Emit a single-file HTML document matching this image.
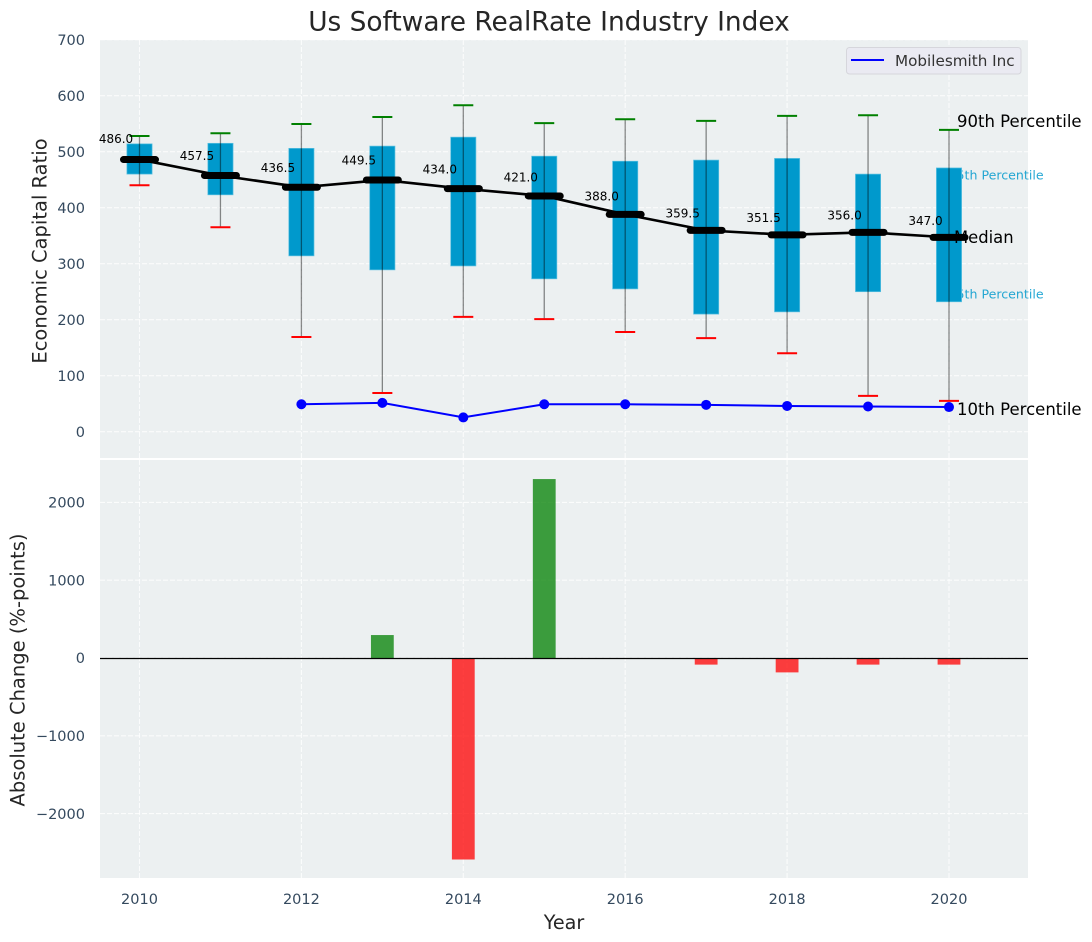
<!DOCTYPE html>
<html>
<head>
<meta charset="utf-8">
<title>Us Software RealRate Industry Index</title>
<style>
html,body{margin:0;padding:0;background:#fff;width:1092px;height:942px;overflow:hidden}
svg{display:block;font-family:"DejaVu Sans","Liberation Sans",sans-serif}
</style>
</head>
<body>
<svg id="chart" xmlns="http://www.w3.org/2000/svg" width="1092" height="942" viewBox="0 0 1092 942">
  <rect x="100" y="40" width="928" height="418" fill="#ecf0f1"/>
  <rect x="100" y="460" width="928" height="418" fill="#ecf0f1"/>
  <g id="grid"></g>
  <g id="notes-under"></g>
  <g id="marks"></g>
  <g id="bars"></g>
  <line x1="100" x2="1028" y1="658.5" y2="658.5" stroke="#000" stroke-width="1.2"/>
  <g id="ticks"></g>
  <g id="notes-over"></g>
  <text x="549" y="30.5" font-size="26.4" fill="#262626" text-anchor="middle">Us Software RealRate Industry Index</text>
  <text x="564" y="929" font-size="19.2" fill="#262626" text-anchor="middle">Year</text>
  <text transform="translate(46.5,251) rotate(-90)" font-size="19.5" fill="#262626" text-anchor="middle">Economic Capital Ratio</text>
  <text transform="translate(24.5,670) rotate(-90)" font-size="19.5" fill="#262626" text-anchor="middle">Absolute Change (%-points)</text>
  <g>
    <rect x="846.5" y="47.5" width="174.5" height="26.5" rx="3" fill="#eaeaf2" stroke="#d6d6dc" stroke-width="1"/>
    <line x1="851" x2="884" y1="60" y2="60" stroke="#0000ff" stroke-width="2"/>
    <text x="895" y="66" font-size="15.2" fill="#333">Mobilesmith Inc</text>
  </g>
</svg>
<script>
const years = [2010,2011,2012,2013,2014,2015,2016,2017,2018,2019,2020];
const p90 = [528,533,549.5,562,583,551,558,555,564,565,539];
const p75 = [514,515,506,510,526,492,483,485,488,460,471];
const median = [486,457.5,436.5,449.5,434,421,388,359.5,351.5,356,347];
const p25 = [460,423,314,289,296,273,255,210,214,250,232];
const p10 = [440,365,169,69,205,201,178,167,140,64,55];
const companyYears = [2012,2013,2014,2015,2016,2017,2018,2019,2020];
const companyValues = [49,51.5,25.5,49,49,48,46,45,44];
const changeYears = [2013,2014,2015,2017,2018,2019,2020];
const changeValues = [295,-2590,2300,-85,-185,-85,-85];
const xTickLabels = [2010,2012,2014,2016,2018,2020];
const topTickLabels = [0,100,200,300,400,500,600,700];
const bottomTickLabels = [-2000,-1000,0,1000,2000];

const NS = 'http://www.w3.org/2000/svg';
const X = v => 139.5 + (v - 2010) * 80.95;
const YT = v => 431.7 - v * 0.56;
const YB = v => 658 - v * 0.0778;
const $ = id => document.getElementById(id);
function mk(parent, tag, attrs, text) {
  const el = document.createElementNS(NS, tag);
  for (const k in attrs) el.setAttribute(k, attrs[k]);
  if (text !== undefined) el.textContent = text;
  $(parent).appendChild(el);
  return el;
}
const fmt = v => String(v).replace('-', '\u2212');
const GRID = {stroke:'#fff','stroke-width':1.1,'stroke-dasharray':'5 2','stroke-opacity':0.8};
const TICK = {'font-size':14.5,fill:'#34495e'};
let el;

xTickLabels.forEach(t => {
  el = mk('grid','line',{...GRID,x1:X(t),x2:X(t),y1:40,y2:458});
  
  
  el = mk('grid','line',{...GRID,x1:X(t),x2:X(t),y1:460,y2:878});
  
  
  el = mk('ticks','text',{...TICK,x:X(t),y:904,'text-anchor':'middle'},t);
  
  
});
topTickLabels.forEach(t => {
  el = mk('grid','line',{...GRID,x1:100,x2:1028,y1:YT(t),y2:YT(t)});
  
  
  el = mk('ticks','text',{...TICK,x:85,y:YT(t)+5.2,'text-anchor':'end'},t);
  
  
});
bottomTickLabels.forEach(t => {
  el = mk('grid','line',{...GRID,x1:100,x2:1028,y1:YB(t),y2:YB(t)});
  
  
  el = mk('ticks','text',{...TICK,x:85,y:YB(t)+5.2,'text-anchor':'end'},fmt(t));
  
  
});

const last = years.length - 1;
el = mk('notes-under','text',{x:X(years[last])-0.5,y:YT(p75[last])+11.5,'font-size':12.6,fill:'#0099cc','fill-opacity':0.85},'75th Percentile');


el = mk('notes-under','text',{x:X(years[last])-0.5,y:YT(p25[last])-3.5,'font-size':12.6,fill:'#0099cc','fill-opacity':0.85},'25th Percentile');



years.forEach((y,i) => {
  const x = X(y);
  el = mk('marks','rect',{x:x-12.6,y:YT(p75[i]),width:25.2,height:YT(p25[i])-YT(p75[i]),fill:'#0099cc',stroke:'#5cc0e0','stroke-width':0.7});
  
  
  el = mk('marks','line',{x1:x,x2:x,y1:YT(p90[i]),y2:YT(p10[i]),stroke:'#000','stroke-opacity':0.45,'stroke-width':1.3});
  
  
  el = mk('marks','line',{x1:x-10,x2:x+10,y1:YT(p90[i]),y2:YT(p90[i]),stroke:'#008000','stroke-width':2});
  
  
  el = mk('marks','line',{x1:x-10,x2:x+10,y1:YT(p10[i]),y2:YT(p10[i]),stroke:'#ff0000','stroke-width':2});
  
  
});

el = mk('marks','polyline',{points:years.map((y,i)=>X(y)+','+YT(median[i])).join(' '),fill:'none',stroke:'#000','stroke-width':2.6});


years.forEach((y,i) => {
  const x = X(y);
  el = mk('marks','line',{x1:x-16,x2:x+16,y1:YT(median[i]),y2:YT(median[i]),stroke:'#000','stroke-width':7,'stroke-linecap':'round'});
  
  
  el = mk('notes-over','text',{x:x-23.5,y:YT(median[i])-(12.5+(median[i]-347)*0.029),'font-size':12,fill:'#000','text-anchor':'middle'},median[i].toFixed(1));
  
  
});

el = mk('marks','polyline',{points:companyYears.map((y,i)=>X(y)+','+YT(companyValues[i])).join(' '),fill:'none',stroke:'#0000ff','stroke-width':2});


companyYears.forEach((y,i) => {
  el = mk('marks','circle',{cx:X(y),cy:YT(companyValues[i]),r:5,fill:'#0000ff'});
  
  
});

changeYears.forEach((y,i) => {
  const v = changeValues[i];
  const top = Math.min(YB(v), YB(0));
  const h = Math.abs(YB(v) - YB(0));
  el = mk('bars','rect',{x:X(y)-11.4,y:top,width:22.8,height:h,fill:v>=0?'#008000':'#ff0000','fill-opacity':0.75});
  
  
});

el = mk('notes-over','text',{x:957,y:127,'font-size':16.5,fill:'#000'},'90th Percentile');


el = mk('notes-over','text',{x:954,y:243,'font-size':16.4,fill:'#000'},'Median');


el = mk('notes-over','text',{x:957,y:415,'font-size':16.5,fill:'#000'},'10th Percentile');


</script>
</body>
</html>
